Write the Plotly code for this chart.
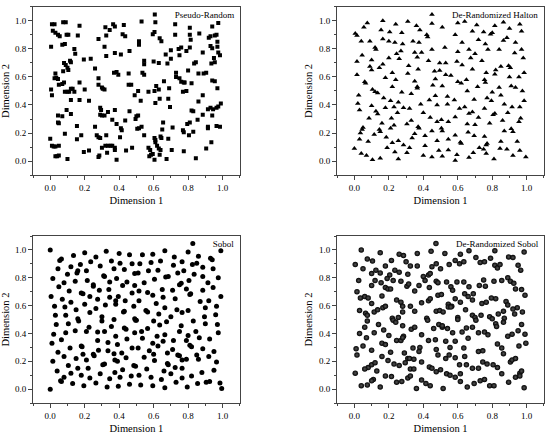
import plotly.graph_objects as go

# points, (dimension 1, dimension 2)
random_pts = [
    (0.01, 0.975), (0.025, 0.975), (0.075, 0.99), (0.09, 0.99), (0.17, 0.965), (0.32, 0.955), (0.345, 0.935),
    (0.365, 0.975), (0.375, 0.96), (0.427, 0.97), (0.53, 0.995), (0.61, 0.99), (0.725, 0.975), (0.81, 0.95),
    (0.975, 0.985), (0.94, 0.96), (0.015, 0.93), (0.03, 0.915), (0.045, 0.9), (0.055, 0.89), (0.095, 0.9),
    (0.105, 0.9), (0.16, 0.895), (0.325, 0.895), (0.42, 0.905), (0.435, 0.89), (0.595, 0.905), (0.605, 0.92),
    (0.635, 0.875), (0.645, 0.855), (0.725, 0.9), (0.81, 0.9), (0.815, 0.865), (0.865, 0.91), (0.92, 0.88),
    (0.93, 0.89), (0.955, 0.895), (0.965, 0.9), (0.28, 0.87), (0.515, 0.855), (0.005, 0.815), (0.07, 0.83),
    (0.085, 0.835), (0.14, 0.8), (0.145, 0.765), (0.315, 0.815), (0.375, 0.77), (0.325, 0.75), (0.41, 0.76),
    (0.46, 0.785), (0.515, 0.83), (0.67, 0.76), (0.70, 0.79), (0.745, 0.8), (0.76, 0.81), (0.75, 0.755),
    (0.70, 0.73), (0.79, 0.785), (0.81, 0.81), (0.885, 0.775), (0.93, 0.82), (0.94, 0.805), (0.97, 0.85),
    (0.97, 0.815), (0.975, 0.775), (0.985, 0.755), (0.95, 0.735), (0.955, 0.705), (0.08, 0.7), (0.09, 0.685),
    (0.1, 0.665), (0.105, 0.65), (0.12, 0.705), (0.115, 0.715), (0.195, 0.725), (0.235, 0.73), (0.26, 0.66),
    (0.545, 0.715), (0.545, 0.69), (0.6, 0.71), (0.63, 0.7), (0.68, 0.695), (0.835, 0.695), (0.845, 0.705),
    (0.935, 0.695), (0.03, 0.625), (0.025, 0.59), (0.035, 0.595), (0.045, 0.585), (0.075, 0.64), (0.17, 0.56),
    (0.08, 0.56), (0.07, 0.55), (0.05, 0.545), (0.28, 0.59), (0.37, 0.63), (0.385, 0.635), (0.395, 0.615),
    (0.455, 0.625), (0.455, 0.545), (0.47, 0.545), (0.535, 0.63), (0.545, 0.615), (0.615, 0.535), (0.66, 0.57),
    (0.73, 0.63), (0.73, 0.6), (0.75, 0.59), (0.76, 0.565), (0.775, 0.56), (0.78, 0.56), (0.82, 0.555),
    (0.80, 0.645), (0.86, 0.625), (0.89, 0.625), (0.905, 0.63), (0.94, 0.575), (0.955, 0.57), (0.97, 0.52),
    (0.005, 0.51), (0.01, 0.47), (0.085, 0.495), (0.1, 0.495), (0.11, 0.495), (0.12, 0.515), (0.13, 0.515),
    (0.14, 0.495), (0.2, 0.51), (0.28, 0.545), (0.3, 0.525), (0.305, 0.515), (0.315, 0.51), (0.49, 0.47),
    (0.51, 0.5), (0.57, 0.495), (0.605, 0.5), (0.63, 0.51), (0.69, 0.52), (0.77, 0.495), (0.79, 0.5),
    (0.885, 0.47), (0.12, 0.435), (0.17, 0.435), (0.225, 0.43), (0.525, 0.43), (0.61, 0.415), (0.635, 0.445),
    (0.685, 0.445), (0.695, 0.385), (0.86, 0.425), (0.82, 0.36), (0.83, 0.355), (0.915, 0.37), (0.93, 0.38),
    (0.945, 0.37), (0.965, 0.38), (0.975, 0.39), (0.99, 0.41), (0.095, 0.365), (0.12, 0.335), (0.29, 0.38),
    (0.295, 0.365), (0.375, 0.365), (0.46, 0.355), (0.045, 0.325), (0.07, 0.32), (0.29, 0.33), (0.3, 0.325),
    (0.315, 0.325), (0.335, 0.35), (0.36, 0.295), (0.5, 0.32), (0.51, 0.325), (0.885, 0.33), (0.94, 0.325),
    (0.855, 0.295), (0.045, 0.275), (0.05, 0.27), (0.155, 0.25), (0.26, 0.245), (0.385, 0.265), (0.41, 0.235),
    (0.415, 0.22), (0.435, 0.29), (0.495, 0.3), (0.505, 0.23), (0.515, 0.235), (0.53, 0.245), (0.655, 0.275),
    (0.65, 0.225), (0.71, 0.24), (0.77, 0.22), (0.775, 0.205), (0.795, 0.265), (0.81, 0.275), (0.83, 0.21),
    (0.805, 0.185), (0.915, 0.245), (0.915, 0.235), (0.965, 0.25), (0.985, 0.245), (0.0, 0.16), (0.085, 0.195),
    (0.155, 0.155), (0.18, 0.185), (0.27, 0.185), (0.28, 0.17), (0.29, 0.165), (0.325, 0.185), (0.405, 0.17),
    (0.545, 0.185), (0.605, 0.165), (0.61, 0.15), (0.61, 0.135), (0.64, 0.175), (0.645, 0.165), (0.685, 0.16),
    (0.01, 0.11), (0.02, 0.105), (0.03, 0.105), (0.05, 0.11), (0.03, 0.035), (0.04, 0.035), (0.05, 0.04),
    (0.1, 0.015), (0.195, 0.065), (0.225, 0.075), (0.28, 0.03), (0.285, 0.04), (0.3, 0.095), (0.32, 0.11),
    (0.335, 0.11), (0.35, 0.11), (0.36, 0.11), (0.33, 0.06), (0.375, 0.095), (0.375, 0.08), (0.385, 0.01),
    (0.44, 0.075), (0.475, 0.095), (0.57, 0.095), (0.58, 0.08), (0.575, 0.035), (0.585, 0.045), (0.595, 0.05),
    (0.605, 0.01), (0.62, 0.11), (0.63, 0.09), (0.64, 0.08), (0.635, 0.045), (0.675, 0.015), (0.705, 0.08),
    (0.775, 0.07), (0.845, 0.02), (0.905, 0.09), (0.935, 0.135),
]

halton_pts = [
    (0.075, 0.985), (0.165, 1.0), (0.24, 0.975), (0.31, 0.995), (0.36, 0.965), (0.45, 0.98), (0.51, 0.955),
    (0.6, 0.985), (0.64, 0.995), (0.71, 0.97), (0.815, 0.965), (0.865, 0.99), (0.96, 0.975), (0.055, 0.955),
    (0.005, 0.91), (0.015, 0.895), (0.155, 0.935), (0.205, 0.92), (0.275, 0.915), (0.38, 0.935), (0.42, 0.9),
    (0.425, 0.885), (0.585, 0.9), (0.685, 0.925), (0.75, 0.92), (0.79, 0.905), (0.8, 0.915), (0.9, 0.945),
    (0.97, 0.925), (0.04, 0.855), (0.09, 0.855), (0.165, 0.87), (0.2, 0.855), (0.235, 0.845), (0.28, 0.835),
    (0.34, 0.855), (0.375, 0.845), (0.625, 0.845), (0.72, 0.865), (0.76, 0.835), (0.865, 0.86), (0.885, 0.88),
    (0.935, 0.845), (0.12, 0.81), (0.125, 0.795), (0.045, 0.755), (0.245, 0.765), (0.27, 0.785), (0.35, 0.775),
    (0.39, 0.775), (0.45, 0.795), (0.525, 0.81), (0.6, 0.78), (0.665, 0.795), (0.7, 0.765), (0.775, 0.795),
    (0.84, 0.795), (0.93, 0.77), (0.97, 0.795), (0.1, 0.72), (0.015, 0.71), (0.165, 0.69), (0.2, 0.735),
    (0.26, 0.73), (0.365, 0.74), (0.43, 0.715), (0.495, 0.7), (0.53, 0.7), (0.595, 0.71), (0.675, 0.735),
    (0.74, 0.715), (0.98, 0.735), (0.09, 0.675), (0.1, 0.65), (0.145, 0.665), (0.22, 0.63), (0.315, 0.68),
    (0.37, 0.655), (0.465, 0.64), (0.495, 0.645), (0.53, 0.615), (0.56, 0.61), (0.625, 0.685), (0.685, 0.655),
    (0.765, 0.63), (0.82, 0.65), (0.85, 0.675), (0.895, 0.68), (0.905, 0.665), (0.985, 0.63), (0.015, 0.615),
    (0.18, 0.595), (0.24, 0.58), (0.31, 0.625), (0.35, 0.57), (0.47, 0.585), (0.6, 0.565), (0.65, 0.58),
    (0.755, 0.58), (0.76, 0.56), (0.815, 0.62), (0.9, 0.6), (0.955, 0.6), (0.06, 0.565), (0.065, 0.555),
    (0.105, 0.51), (0.22, 0.53), (0.275, 0.49), (0.365, 0.53), (0.365, 0.52), (0.455, 0.54), (0.51, 0.535),
    (0.62, 0.555), (0.655, 0.5), (0.715, 0.53), (0.8, 0.49), (0.84, 0.525), (0.91, 0.535), (0.935, 0.525),
    (0.975, 0.5), (0.025, 0.47), (0.12, 0.495), (0.135, 0.485), (0.17, 0.45), (0.21, 0.43), (0.33, 0.48),
    (0.435, 0.435), (0.47, 0.465), (0.54, 0.46), (0.58, 0.435), (0.695, 0.44), (0.77, 0.45), (0.795, 0.43),
    (0.85, 0.47), (0.985, 0.43), (0.02, 0.41), (0.1, 0.395), (0.255, 0.42), (0.18, 0.38), (0.23, 0.385),
    (0.285, 0.38), (0.32, 0.375), (0.385, 0.405), (0.48, 0.4), (0.54, 0.405), (0.61, 0.375), (0.64, 0.385),
    (0.755, 0.375), (0.87, 0.405), (0.915, 0.385), (0.96, 0.385), (0.03, 0.365), (0.125, 0.355), (0.135, 0.335),
    (0.085, 0.305), (0.25, 0.345), (0.33, 0.29), (0.4, 0.345), (0.44, 0.31), (0.505, 0.295), (0.585, 0.315),
    (0.665, 0.34), (0.685, 0.35), (0.72, 0.31), (0.805, 0.33), (0.815, 0.34), (0.89, 0.345), (0.965, 0.305),
    (0.05, 0.24), (0.045, 0.225), (0.16, 0.27), (0.215, 0.305), (0.305, 0.265), (0.37, 0.245), (0.375, 0.235),
    (0.48, 0.28), (0.545, 0.28), (0.655, 0.265), (0.7, 0.26), (0.785, 0.27), (0.86, 0.29), (0.955, 0.28),
    (0.035, 0.2), (0.15, 0.21), (0.145, 0.225), (0.115, 0.19), (0.21, 0.235), (0.23, 0.255), (0.41, 0.18),
    (0.45, 0.215), (0.505, 0.235), (0.51, 0.215), (0.585, 0.185), (0.66, 0.205), (0.695, 0.18), (0.755, 0.175),
    (0.87, 0.215), (0.91, 0.23), (0.92, 0.21), (0.08, 0.14), (0.185, 0.17), (0.335, 0.165), (0.35, 0.195),
    (0.22, 0.13), (0.255, 0.145), (0.285, 0.115), (0.32, 0.095), (0.41, 0.11), (0.545, 0.155), (0.615, 0.135),
    (0.62, 0.125), (0.725, 0.095), (0.765, 0.115), (0.77, 0.125), (0.85, 0.14), (0.945, 0.14), (0.48, 0.145),
    (0.0, 0.09), (0.03, 0.155), (0.04, 0.055), (0.07, 0.04), (0.105, 0.01), (0.15, 0.02), (0.19, 0.095),
    (0.235, 0.065), (0.255, 0.015), (0.305, 0.06), (0.4, 0.04), (0.45, 0.03), (0.49, 0.075), (0.51, 0.035),
    (0.545, 0.08), (0.595, 0.045), (0.585, 0.005), (0.665, 0.025), (0.69, 0.06), (0.765, 0.055), (0.81, 0.015),
    (0.845, 0.09), (0.885, 0.085), (0.92, 0.04), (0.96, 0.075), (0.995, 0.03), (0.75, 0.085),
]

sobol_pts = [
    (0.0, 1.0), (0.2, 0.98), (0.325, 0.99), (0.4, 0.975), (0.46, 0.965), (0.535, 0.965), (0.595, 0.97),
    (0.665, 0.995), (0.72, 0.95), (0.8, 0.985), (0.86, 0.955), (0.93, 0.94), (0.94, 0.93), (0.99, 0.995),
    (0.055, 0.925), (0.065, 0.935), (0.135, 0.96), (0.265, 0.95), (0.235, 0.915), (0.175, 0.895), (0.12, 0.88),
    (0.29, 0.885), (0.355, 0.92), (0.405, 0.905), (0.475, 0.9), (0.52, 0.9), (0.585, 0.91), (0.64, 0.92),
    (0.765, 0.915), (0.85, 0.905), (0.825, 0.895), (0.885, 0.875), (0.945, 0.865), (0.045, 0.865), (0.1, 0.825),
    (0.155, 0.835), (0.16, 0.85), (0.21, 0.85), (0.31, 0.815), (0.315, 0.81), (0.37, 0.865), (0.43, 0.86),
    (0.49, 0.83), (0.51, 0.835), (0.57, 0.85), (0.625, 0.855), (0.67, 0.805), (0.715, 0.89), (0.74, 0.835),
    (0.775, 0.85), (0.835, 0.825), (0.885, 0.81), (0.975, 0.8), (0.015, 0.795), (0.08, 0.765), (0.145, 0.775),
    (0.215, 0.78), (0.25, 0.75), (0.25, 0.74), (0.345, 0.77), (0.385, 0.795), (0.445, 0.77), (0.49, 0.745),
    (0.545, 0.765), (0.605, 0.79), (0.685, 0.81), (0.75, 0.75), (0.76, 0.76), (0.805, 0.78), (0.915, 0.765),
    (0.05, 0.735), (0.11, 0.705), (0.18, 0.69), (0.19, 0.685), (0.285, 0.71), (0.34, 0.715), (0.395, 0.665),
    (0.42, 0.745), (0.475, 0.69), (0.515, 0.705), (0.565, 0.695), (0.595, 0.675), (0.65, 0.715), (0.71, 0.71),
    (0.79, 0.72), (0.885, 0.71), (0.945, 0.73), (0.005, 0.665), (0.07, 0.645), (0.12, 0.625), (0.23, 0.665),
    (0.275, 0.645), (0.345, 0.66), (0.38, 0.635), (0.435, 0.635), (0.515, 0.635), (0.615, 0.615), (0.655, 0.66),
    (0.725, 0.65), (0.81, 0.68), (0.815, 0.685), (0.87, 0.63), (0.92, 0.635), (0.99, 0.665), (0.025, 0.595),
    (0.085, 0.59), (0.15, 0.57), (0.2, 0.61), (0.23, 0.55), (0.265, 0.58), (0.32, 0.605), (0.38, 0.61),
    (0.425, 0.555), (0.43, 0.56), (0.485, 0.595), (0.555, 0.565), (0.565, 0.555), (0.63, 0.54), (0.665, 0.585),
    (0.735, 0.57), (0.765, 0.55), (0.8, 0.565), (0.9, 0.585), (0.965, 0.595), (0.03, 0.53), (0.09, 0.53),
    (0.16, 0.505), (0.165, 0.49), (0.3, 0.49), (0.3, 0.52), (0.37, 0.5), (0.49, 0.505), (0.5, 0.495),
    (0.495, 0.495), (0.6, 0.49), (0.7, 0.52), (0.83, 0.49), (0.895, 0.52), (0.96, 0.535), (0.035, 0.465),
    (0.105, 0.47), (0.225, 0.445), (0.145, 0.42), (0.21, 0.415), (0.355, 0.45), (0.43, 0.44), (0.44, 0.43),
    (0.565, 0.435), (0.635, 0.46), (0.675, 0.485), (0.76, 0.455), (0.9, 0.47), (0.97, 0.465), (0.02, 0.395),
    (0.09, 0.405), (0.275, 0.41), (0.315, 0.415), (0.38, 0.38), (0.49, 0.405), (0.53, 0.415), (0.62, 0.38),
    (0.665, 0.39), (0.75, 0.415), (0.8, 0.385), (0.845, 0.415), (0.865, 0.37), (0.925, 0.36), (0.975, 0.405),
    (0.065, 0.355), (0.115, 0.295), (0.18, 0.31), (0.185, 0.305), (0.275, 0.35), (0.335, 0.335), (0.39, 0.32),
    (0.445, 0.36), (0.535, 0.365), (0.595, 0.33), (0.655, 0.345), (0.715, 0.35), (0.79, 0.35), (0.01, 0.33),
    (0.28, 0.28), (0.335, 0.275), (0.475, 0.295), (0.51, 0.295), (0.575, 0.275), (0.625, 0.31), (0.71, 0.285),
    (0.81, 0.315), (0.82, 0.305), (0.885, 0.29), (0.95, 0.27), (0.045, 0.265), (0.08, 0.235), (0.19, 0.25),
    (0.25, 0.25), (0.255, 0.24), (0.37, 0.255), (0.415, 0.26), (0.44, 0.225), (0.545, 0.23), (0.6, 0.25),
    (0.68, 0.26), (0.74, 0.245), (0.75, 0.24), (0.85, 0.245), (0.92, 0.235), (0.015, 0.2), (0.15, 0.22),
    (0.21, 0.21), (0.305, 0.175), (0.315, 0.18), (0.375, 0.21), (0.39, 0.2), (0.485, 0.17), (0.495, 0.165),
    (0.605, 0.205), (0.68, 0.185), (0.685, 0.175), (0.765, 0.21), (0.79, 0.215), (0.86, 0.215), (0.965, 0.195),
    (0.105, 0.17), (0.16, 0.15), (0.22, 0.15), (0.29, 0.11), (0.375, 0.12), (0.42, 0.14), (0.56, 0.145),
    (0.66, 0.13), (0.725, 0.155), (0.765, 0.15), (0.88, 0.12), (0.95, 0.135), (0.04, 0.13), (0.12, 0.115),
    (0.18, 0.1), (0.23, 0.08), (0.345, 0.075), (0.405, 0.085), (0.47, 0.095), (0.515, 0.1), (0.585, 0.085),
    (0.645, 0.07), (0.7, 0.11), (0.765, 0.08), (0.82, 0.095), (0.905, 0.05), (0.925, 0.055), (0.985, 0.045),
    (0.06, 0.06), (0.065, 0.055), (0.13, 0.04), (0.195, 0.025), (0.265, 0.045), (0.33, 0.015), (0.395, 0.02),
    (0.46, 0.035), (0.525, 0.03), (0.595, 0.025), (0.665, 0.01), (0.73, 0.05), (0.795, 0.015), (0.855, 0.04),
    (0.0, 0.0), (0.995, 0.005), (0.08, 0.085),
]

derand_sobol_pts = [
    (0.04, 1.0), (0.15, 0.98), (0.26, 0.97), (0.285, 0.96), (0.365, 0.975), (0.445, 0.99), (0.525, 0.975),
    (0.615, 0.97), (0.665, 0.995), (0.815, 0.995), (0.985, 0.985), (0.005, 0.895), (0.075, 0.935), (0.105, 0.92),
    (0.05, 0.865), (0.1, 0.83), (0.125, 0.855), (0.15, 0.835), (0.18, 0.885), (0.205, 0.82), (0.215, 0.925),
    (0.235, 0.855), (0.26, 0.84), (0.3, 0.915), (0.325, 0.885), (0.31, 0.825), (0.365, 0.885), (0.4, 0.81),
    (0.43, 0.82), (0.44, 0.83), (0.45, 0.88), (0.475, 0.9), (0.5, 0.865), (0.55, 0.895), (0.585, 0.925),
    (0.61, 0.9), (0.635, 0.915), (0.705, 0.945), (0.73, 0.91), (0.755, 0.915), (0.79, 0.94), (0.815, 0.89),
    (0.83, 0.87), (0.845, 0.895), (0.895, 0.95), (0.92, 0.945), (0.95, 0.89), (0.965, 0.855), (0.025, 0.78),
    (0.015, 0.7), (0.06, 0.665), (0.08, 0.655), (0.1, 0.745), (0.12, 0.78), (0.155, 0.765), (0.18, 0.73),
    (0.195, 0.72), (0.21, 0.72), (0.19, 0.795), (0.225, 0.78), (0.27, 0.775), (0.305, 0.74), (0.315, 0.755),
    (0.35, 0.705), (0.375, 0.745), (0.41, 0.78), (0.435, 0.73), (0.475, 0.775), (0.485, 0.765), (0.535, 0.77),
    (0.56, 0.735), (0.57, 0.71), (0.595, 0.77), (0.635, 0.77), (0.665, 0.735), (0.69, 0.685), (0.725, 0.745),
    (0.75, 0.785), (0.76, 0.74), (0.81, 0.775), (0.855, 0.78), (0.89, 0.8), (0.905, 0.775), (0.925, 0.76),
    (0.935, 0.72), (0.97, 0.715), (0.99, 0.675), (0.1, 0.615), (0.035, 0.655), (0.16, 0.67), (0.245, 0.64),
    (0.27, 0.625), (0.28, 0.595), (0.325, 0.595), (0.39, 0.62), (0.43, 0.635), (0.44, 0.65), (0.485, 0.675),
    (0.505, 0.68), (0.545, 0.61), (0.565, 0.595), (0.585, 0.65), (0.615, 0.625), (0.64, 0.685), (0.66, 0.665),
    (0.685, 0.64), (0.74, 0.615), (0.765, 0.625), (0.795, 0.655), (0.82, 0.65), (0.88, 0.63), (0.89, 0.605),
    (0.945, 0.585), (0.03, 0.565), (0.065, 0.545), (0.075, 0.53), (0.115, 0.555), (0.135, 0.57), (0.165, 0.585),
    (0.18, 0.595), (0.22, 0.51), (0.225, 0.495), (0.24, 0.48), (0.255, 0.515), (0.28, 0.555), (0.35, 0.56),
    (0.42, 0.51), (0.425, 0.495), (0.475, 0.56), (0.495, 0.565), (0.515, 0.555), (0.545, 0.59), (0.56, 0.59),
    (0.6, 0.515), (0.6, 0.5), (0.645, 0.57), (0.685, 0.53), (0.7, 0.515), (0.705, 0.495), (0.735, 0.53),
    (0.785, 0.52), (0.8, 0.505), (0.835, 0.54), (0.865, 0.56), (0.87, 0.51), (0.92, 0.575), (0.93, 0.54),
    (0.975, 0.555), (0.075, 0.49), (0.03, 0.4), (0.06, 0.445), (0.07, 0.37), (0.115, 0.405), (0.14, 0.465),
    (0.17, 0.425), (0.2, 0.385), (0.28, 0.455), (0.285, 0.38), (0.33, 0.43), (0.35, 0.445), (0.39, 0.39),
    (0.46, 0.435), (0.49, 0.465), (0.51, 0.445), (0.51, 0.455), (0.54, 0.435), (0.57, 0.405), (0.625, 0.41),
    (0.65, 0.44), (0.685, 0.445), (0.72, 0.405), (0.755, 0.41), (0.775, 0.39), (0.82, 0.47), (0.825, 0.45),
    (0.865, 0.48), (0.89, 0.38), (0.915, 0.395), (0.95, 0.42), (0.97, 0.465), (0.99, 0.395), (0.01, 0.29),
    (0.05, 0.31), (0.16, 0.33), (0.18, 0.32), (0.245, 0.35), (0.27, 0.35), (0.28, 0.37), (0.34, 0.295),
    (0.38, 0.3), (0.375, 0.27), (0.43, 0.35), (0.47, 0.355), (0.475, 0.285), (0.53, 0.345), (0.555, 0.3),
    (0.585, 0.345), (0.635, 0.295), (0.66, 0.365), (0.72, 0.27), (0.745, 0.275), (0.83, 0.325), (0.855, 0.295),
    (0.865, 0.255), (0.955, 0.31), (0.995, 0.33), (0.015, 0.245), (0.1, 0.28), (0.16, 0.235), (0.195, 0.205),
    (0.21, 0.265), (0.23, 0.18), (0.26, 0.17), (0.295, 0.19), (0.31, 0.22), (0.32, 0.22), (0.29, 0.26),
    (0.345, 0.215), (0.39, 0.195), (0.485, 0.245), (0.53, 0.22), (0.55, 0.245), (0.585, 0.225), (0.61, 0.175),
    (0.64, 0.235), (0.745, 0.195), (0.77, 0.18), (0.805, 0.175), (0.83, 0.155), (0.905, 0.195), (0.915, 0.21),
    (0.935, 0.22), (0.08, 0.155), (0.1, 0.175), (0.12, 0.19), (0.06, 0.145), (0.13, 0.13), (0.325, 0.145),
    (0.345, 0.145), (0.435, 0.16), (0.45, 0.15), (0.475, 0.125), (0.5, 0.14), (0.535, 0.11), (0.615, 0.11),
    (0.65, 0.175), (0.685, 0.15), (0.72, 0.15), (0.855, 0.11), (0.96, 0.115), (0.97, 0.13), (0.005, 0.115),
    (0.18, 0.095), (0.215, 0.09), (0.11, 0.07), (0.04, 0.025), (0.075, 0.03), (0.1, 0.06), (0.15, 0.015),
    (0.245, 0.05), (0.275, 0.055), (0.31, 0.08), (0.325, 0.095), (0.36, 0.005), (0.39, 0.065), (0.415, 0.04),
    (0.44, 0.025), (0.515, 0.005), (0.555, 0.1), (0.585, 0.085), (0.615, 0.055), (0.655, 0.015), (0.695, 0.04),
    (0.73, 0.06), (0.755, 0.07), (0.785, 0.025), (0.81, 0.025), (0.895, 0.05), (0.935, 0.085), (0.96, 0.095),
    (0.985, 0.01),
]

panel_names = ["Pseudo-Random", "De-Randomized Halton", "Sobol", "De-Randomized Sobol"]
tick_vals = [0.0, 0.2, 0.4, 0.6, 0.8, 1.0]
tick_text = ["0.0", "0.2", "0.4", "0.6", "0.8", "1.0"]
minor_vals = [-0.1, 0.1, 0.3, 0.5, 0.7, 0.9, 1.1]

FONT = "Liberation Serif"
LINE = "#444444"

# x domain, y domain for each panel (paper fractions)
domains = [
    ((0.06, 0.436), (0.602, 0.989)),
    ((0.613, 0.989), (0.602, 0.989)),
    ((0.06, 0.436), (0.078, 0.462)),
    ((0.613, 0.989), (0.078, 0.462)),
]

markers = [
    dict(symbol="square", size=4, color="black"),
    dict(symbol="triangle-up", size=5, color="black"),
    dict(symbol="circle", size=5, color="black"),
    dict(symbol="circle", size=5.5, color="#000000",
         gradient=dict(type="radial", color="#555555"),
         line=dict(width=0)),
]

fig = go.Figure()

all_pts = [random_pts, halton_pts, sobol_pts, derand_sobol_pts]
for i, (pts, name, mk) in enumerate(zip(all_pts, panel_names, markers)):
    n = "" if i == 0 else str(i + 1)
    xs = [p[0] for p in pts]
    ys = [p[1] for p in pts]
    fig.add_trace(go.Scatter(
        x=xs, y=ys, mode="markers", name=name, marker=mk,
        xaxis="x" + n, yaxis="y" + n, legend="legend" + n,
        showlegend=True,
    ))

    (x0, x1), (y0, y1) = domains[i]
    axis_common = dict(
        range=[-0.1, 1.1], showgrid=False, zeroline=False,
        showline=True, linecolor=LINE, linewidth=1, mirror=True,
        ticks="outside", ticklen=4, tickwidth=1, tickcolor=LINE,
        tickvals=tick_vals, ticktext=tick_text,
        minor=dict(ticks="outside", ticklen=2, tickvals=minor_vals, tickcolor=LINE),
        tickfont=dict(family=FONT, size=9, color="black"),
        title_font=dict(family=FONT, size=10.5, color="black"),
    )
    fig.update_layout(**{
        "xaxis" + n: dict(axis_common, domain=[x0, x1], anchor="y" + n,
                          title=dict(text="Dimension 1", standoff=4)),
        "yaxis" + n: dict(axis_common, domain=[y0, y1], anchor="x" + n,
                          title=dict(text="Dimension 2", standoff=4)),
        "legend" + n: dict(x=x1, y=y1 + 0.016, xanchor="right", yanchor="top",
                           bgcolor="rgba(0,0,0,0)", borderwidth=0,
                           font=dict(family=FONT, size=9, color="black"),
                           itemwidth=30, tracegroupgap=0),
    })

fig.update_layout(
    width=550, height=437,
    margin=dict(l=0, r=0, t=0, b=0),
    paper_bgcolor="white", plot_bgcolor="white",
    font=dict(family=FONT, color="black"),
)

fig.write_html("out.html", config={"displayModeBar": False},
               post_script="document.body.style.margin='0px';")
